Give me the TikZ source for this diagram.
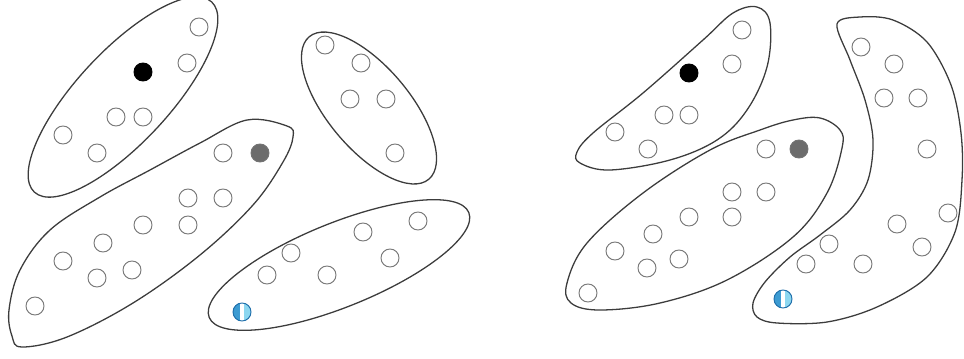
\documentclass[tikz,border=0pt]{standalone}
\usepackage{xcolor}
\usepackage{tikz}

\definecolor{outline}{RGB}{60,60,60}
\definecolor{ringgrey}{RGB}{120,120,120}
\definecolor{lightblue}{RGB}{140,215,240}
\definecolor{midblue}{RGB}{60,155,210}
\definecolor{deepblue}{RGB}{30,110,170}

\tikzset{
  blob/.style={draw=outline, line width=1.1pt},
  pnt/.style={circle, draw=ringgrey, line width=0.8pt, fill=white, minimum size=0.54cm, inner sep=0pt},
  pntblack/.style={pnt, draw=black, fill=black},
  pntgrey/.style={pnt, draw=gray!90!black, fill=gray!85!black},
  pntblue/.style={pnt, draw=deepblue, fill=lightblue,
    path picture={
      \fill[midblue] ([xshift=-0.27cm,yshift=-0.3cm]path picture bounding box.center) rectangle ([xshift=-0.06cm,yshift=0.3cm]path picture bounding box.center);
      \fill[white] ([xshift=-0.06cm,yshift=-0.3cm]path picture bounding box.center) rectangle ([xshift=0.05cm,yshift=0.3cm]path picture bounding box.center);
    }}
}

\begin{document}
\begin{tikzpicture}[x=0.03cm, y=-0.03cm]

\useasboundingbox (0,0) rectangle (964,358);

% Left panel: clusters
\draw[blob, rotate around={47:(123,97)}] (123,97) ellipse (130 and 46);
\draw[blob] plot[smooth cycle, tension=0.6] coordinates {(247,120) (200,143) (150,170) (100,197) (50,230) (20,270) (9,310) (12,336) (22,347) (67,337) (133,303) (200,255) (253,205) (283,162) (293,137) (287,126)};
\draw[blob, rotate around={-50:(369,108)}] (369,108) ellipse (93 and 41);
\draw[blob, rotate around={22:(339,265)}] (339,265) ellipse (140 and 42);

% Left panel: points
\foreach \x/\y [count=\i] in {199/27, 187/63, 116/117, 143/117, 63/135, 97/153}
  \node[pnt] (la\i) at (\x,\y) {};
\node[pntblack] (lcore) at (143,72) {};

\foreach \x/\y [count=\i] in {223/153, 188/198, 223/198, 143/225, 188/225, 103/243, 63/261, 97/278, 132/270, 35/306}
  \node[pnt] (lb\i) at (\x,\y) {};
\node[pntgrey] (lgrey) at (260,153) {};

\foreach \x/\y [count=\i] in {325/45, 361/63, 350/99, 386/99, 395/153}
  \node[pnt] (lc\i) at (\x,\y) {};

\foreach \x/\y [count=\i] in {418/221, 363/232, 291/253, 390/258, 267/275, 327/275}
  \node[pnt] (ld\i) at (\x,\y) {};
\node[pntblue] (lblue) at (242,312) {};

% Right panel: clusters
\draw[blob] plot[smooth cycle, tension=0.6] coordinates {(733,13) (757,7) (770,23) (767,67) (747,110) (717,140) (670,160) (610,170) (580,163) (577,152) (593,133) (643,93) (703,40)};
\draw[blob] plot[smooth cycle, tension=0.6] coordinates {(793,120) (820,118) (840,130) (842,148) (827,193) (793,237) (727,280) (660,303) (600,310) (571,303) (567,283) (587,243) (643,193) (710,150) (760,130)};
\draw[blob] plot[smooth cycle, tension=0.55] coordinates {(837,24) (850,60) (865,100) (873,140) (868,180) (850,210) (820,235) (790,257) (765,282) (753,303) (757,317) (777,323) (827,322) (877,307) (927,277) (955,232) (962,180) (961,133) (951,85) (927,42) (893,20) (860,17)};

% Right panel: points
\foreach \x/\y [count=\i] in {742/30, 732/64, 664/115, 689/115, 615/132, 648/149}
  \node[pnt] (ra\i) at (\x,\y) {};
\node[pntblack] (rcore) at (689,73) {};

\foreach \x/\y [count=\i] in {766/149, 732/192, 766/192, 689/217, 732/217, 653/234, 615/251, 647/268, 679/259, 588/293}
  \node[pnt] (rb\i) at (\x,\y) {};
\node[pntgrey] (rgrey) at (799,149) {};

\foreach \x/\y [count=\i] in {861/47, 894/64, 884/98, 918/98, 927/149, 948/213, 897/224, 922/247, 829/244, 806/264, 863/264}
  \node[pnt] (rc\i) at (\x,\y) {};
\node[pntblue] (rblue) at (783,299) {};

\end{tikzpicture}
\end{document}
